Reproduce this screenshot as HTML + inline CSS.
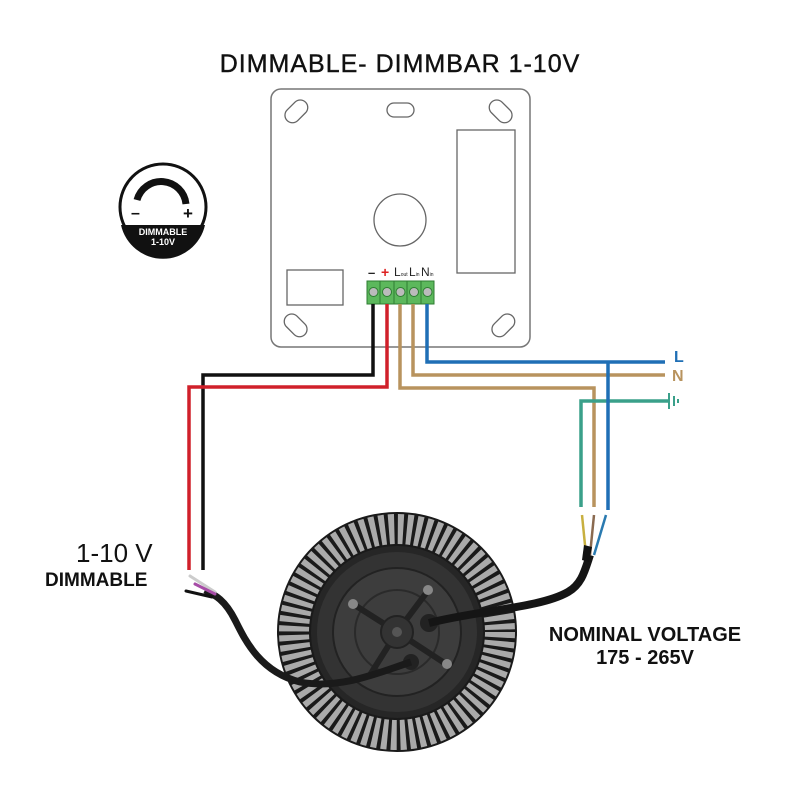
<!DOCTYPE html>
<html><head><meta charset="utf-8"><style>
html,body{margin:0;padding:0;background:#fff}
svg{display:block}
text{font-family:"Liberation Sans",sans-serif}
</style></head><body>
<svg width="800" height="800" viewBox="0 0 800 800" xmlns="http://www.w3.org/2000/svg">
<rect width="800" height="800" fill="#fff"/>
<text x="400" y="72" text-anchor="middle" font-size="25" fill="#111" letter-spacing="1" stroke="#111" stroke-width="0.4">DIMMABLE- DIMMBAR 1-10V</text>

<!-- dimmer box -->
<rect x="271" y="89" width="259" height="258" rx="10" fill="#fff" stroke="#777" stroke-width="1.5"/>
<g fill="none" stroke="#666" stroke-width="1.3">
<rect x="283" y="104" width="26" height="15" rx="7.5" transform="rotate(-45 296 111)"/>
<rect x="387" y="103" width="27" height="14" rx="7"/>
<rect x="488" y="104" width="26" height="15" rx="7.5" transform="rotate(45 501 111)"/>
<rect x="283" y="318" width="26" height="15" rx="7.5" transform="rotate(45 296 325)"/>
<rect x="490" y="318" width="26" height="15" rx="7.5" transform="rotate(-45 503 325)"/>
<rect x="457" y="130" width="58" height="143"/>
<circle cx="400" cy="220" r="26"/>
<rect x="287" y="270" width="56" height="35"/>
</g>
<!-- terminal labels -->
<text x="368" y="277" font-size="13" font-weight="bold" fill="#222">–</text>
<text x="381" y="277" font-size="14" font-weight="bold" fill="#d22">+</text>
<text x="394" y="276" font-size="12" fill="#222">L<tspan font-size="5">out</tspan></text>
<text x="409" y="276" font-size="12" fill="#222">L<tspan font-size="5">in</tspan></text>
<text x="421" y="276" font-size="12" fill="#222">N<tspan font-size="5">in</tspan></text>
<!-- terminal block -->
<rect x="367" y="281" width="67" height="23" fill="#5cb85c" stroke="#2e7d32"/>
<g stroke="#2e7d32" fill="#bbb">
<line x1="380" y1="281" x2="380" y2="304"/><line x1="394" y1="281" x2="394" y2="304"/><line x1="407" y1="281" x2="407" y2="304"/><line x1="421" y1="281" x2="421" y2="304"/>
<circle cx="373.5" cy="292" r="4.5"/><circle cx="387" cy="292" r="4.5"/><circle cx="400.5" cy="292" r="4.5"/><circle cx="414" cy="292" r="4.5"/><circle cx="427.5" cy="292" r="4.5"/>
</g>

<!-- wires -->
<g fill="none" stroke-width="3.5">
<polyline points="373,304 373,375 203,375 203,570" stroke="#111"/>
<polyline points="387,304 387,387 189,387 189,570" stroke="#d0202a"/>
<polyline points="400,304 400,388 594,388 594,507" stroke="#b8935e"/>
<polyline points="413,304 413,375 665,375" stroke="#b8935e"/>
<polyline points="581,507 581,401 668,401" stroke="#3aa08a"/>
<polyline points="427,304 427,362 665,362" stroke="#1f6fb5"/>
<line x1="608" y1="362" x2="608" y2="510" stroke="#1f6fb5"/>
</g>
<!-- ground symbol -->
<g stroke="#3aa08a" stroke-width="2">
<line x1="669" y1="393" x2="669" y2="409"/><line x1="674" y1="396" x2="674" y2="406"/><line x1="678" y1="399" x2="678" y2="403"/>
</g>
<text x="674" y="362" font-size="16" font-weight="bold" fill="#1f6fb5">L</text>
<text x="672" y="381" font-size="16" font-weight="bold" fill="#b8935e">N</text>

<!-- dimmer icon -->
<circle cx="163" cy="207" r="43" fill="#fff" stroke="#111" stroke-width="3"/>
<path d="M121,225 A43 43 0 0 0 205,225 Z" fill="#111"/>
<path d="M137,200 A25 25 0 0 1 186,204" fill="none" stroke="#111" stroke-width="7"/>
<text x="131" y="218" font-size="16" font-weight="bold" fill="#111">–</text>
<text x="183" y="219" font-size="17" font-weight="bold" fill="#111">+</text>
<text x="163" y="235" text-anchor="middle" font-size="9" font-weight="bold" fill="#fff">DIMMABLE</text>
<text x="163" y="245" text-anchor="middle" font-size="9" font-weight="bold" fill="#fff">1-10V</text>

<!-- left labels -->
<text x="76" y="562" font-size="26" fill="#111">1-10 V</text>
<text x="45" y="586" font-size="19" font-weight="bold" fill="#111">DIMMABLE</text>
<text x="645" y="641" text-anchor="middle" font-size="20" font-weight="bold" fill="#111">NOMINAL VOLTAGE</text>
<text x="645" y="664" text-anchor="middle" font-size="20" font-weight="bold" fill="#111">175 - 265V</text>

<!-- fan -->
<circle cx="397" cy="632" r="120" fill="#1a1a1a"/>
<circle cx="397" cy="632" r="103" fill="none" stroke="#aaa" stroke-width="30" stroke-dasharray="5.5 3.5"/>
<circle cx="397" cy="632" r="86" fill="#262626"/>
<circle cx="397" cy="632" r="80" fill="#333"/>
<circle cx="397" cy="632" r="64" fill="#3d3d3d" stroke="#222" stroke-width="2"/>
<circle cx="397" cy="632" r="42" fill="none" stroke="#2a2a2a" stroke-width="2"/>
<g stroke="#222" stroke-width="6">
<line x1="397" y1="632" x2="353" y2="604"/>
<line x1="397" y1="632" x2="427" y2="592"/>
<line x1="397" y1="632" x2="446" y2="664"/>
<line x1="397" y1="632" x2="370" y2="675"/>
</g>
<circle cx="353" cy="604" r="5" fill="#888"/>
<circle cx="428" cy="590" r="5" fill="#888"/>
<circle cx="447" cy="664" r="5" fill="#888"/>
<circle cx="397" cy="632" r="16" fill="#333" stroke="#222" stroke-width="2"/>
<circle cx="397" cy="632" r="5" fill="#555"/>
<circle cx="429" cy="623" r="9" fill="#222"/>
<circle cx="411" cy="662" r="8" fill="#222"/>

<!-- cables -->
<path d="M429,623 C480,610 540,608 568,592 C582,584 585,570 590,555" fill="none" stroke="#151515" stroke-width="8"/>
<g stroke-width="2.5" fill="none">
<line x1="582" y1="515" x2="586" y2="555" stroke="#c8b040"/>
<line x1="594" y1="515" x2="590" y2="555" stroke="#8a6a50"/>
<line x1="606" y1="515" x2="594" y2="555" stroke="#2a7ab0"/>
</g>
<path d="M584,545 L592,547 L589,562 L582,560 Z" fill="#111"/>
<path d="M411,662 C380,672 340,690 300,682 C260,672 245,640 235,620 C225,600 215,595 205,590" fill="none" stroke="#1a1a1a" stroke-width="7"/>
<g stroke-width="3" fill="none" stroke-linecap="round">
<line x1="190" y1="576" x2="215" y2="592" stroke="#ccc"/>
<line x1="195" y1="584" x2="215" y2="594" stroke="#a64ca6"/>
<line x1="186" y1="591" x2="212" y2="597" stroke="#111"/>
</g>
</svg>
</body></html>
